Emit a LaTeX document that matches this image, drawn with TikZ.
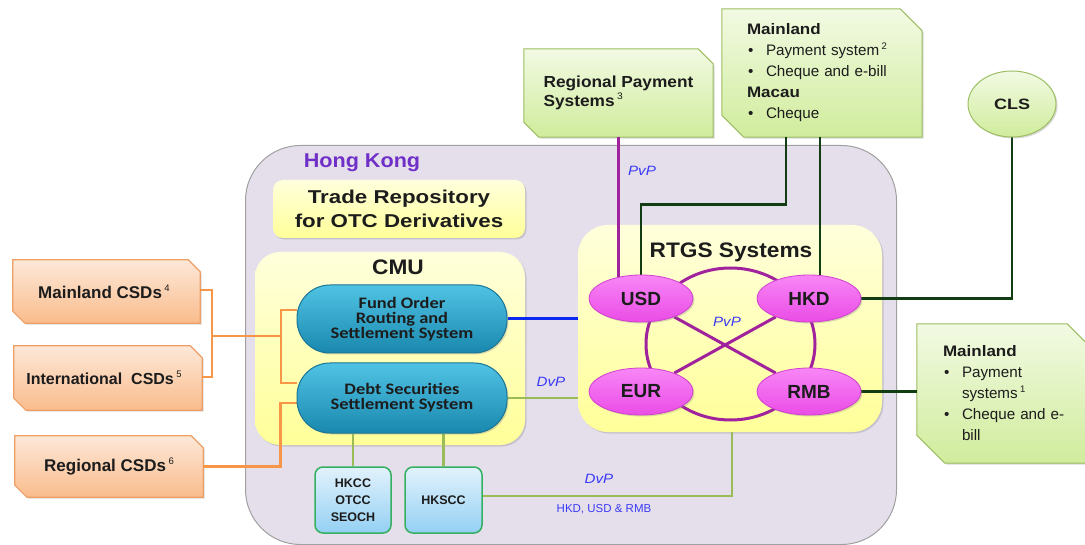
\documentclass[tikz,border=0pt]{standalone}
\usepackage{fontspec}
\setmainfont{Liberation Sans}
\newfontfamily\fA{Liberation Sans}
\newfontfamily\fAs[FakeStretch=1.08]{Liberation Sans}
\newfontfamily\fAx[FakeStretch=1.12]{Liberation Sans}
\newfontfamily\fAw[FakeStretch=1.2]{Liberation Sans}
\newfontfamily\fC[FakeStretch=1.15]{Carlito}
\usetikzlibrary{shadows,calc,shapes.geometric}
\pgfdeclarelayer{lyZ}
\pgfdeclarelayer{lyA}
\pgfdeclarelayer{lyB}
\pgfdeclarelayer{lyC}
\pgfsetlayers{lyZ,lyA,lyB,lyC,main}
\newcommand\supnum[1]{\hspace{2.5pt}\raisebox{0.42em}{\fontsize{9.5}{9.5}\selectfont\mdseries #1}}
\newcommand\fs[2]{\fontsize{#1}{#2}\selectfont}
\newcommand\blt{\makebox[19pt][l]{\hspace{1pt}\textbullet}}
\newcommand\snip[4]{%
  \path[#4] (#1.north west) -- ([xshift=-#2pt]#1.north east) -- ([yshift=-#2pt]#1.north east)
     -- (#1.south east) -- ([xshift=#3pt]#1.south west) -- ([yshift=#3pt]#1.south west) -- cycle;}
\definecolor{lav}{HTML}{E5DFEC}
\definecolor{lavb}{HTML}{A0A0A0}
\definecolor{yelT}{HTML}{FFFFDC}
\definecolor{yelB}{HTML}{FFFF99}
\definecolor{tealT}{HTML}{50C3E4}
\definecolor{tealB}{HTML}{1A88AE}
\definecolor{tealD}{HTML}{1A7696}
\definecolor{magT}{HTML}{F886F6}
\definecolor{magB}{HTML}{EA4CE6}
\definecolor{magD}{HTML}{D040D0}
\definecolor{grnT}{HTML}{F2FAE3}
\definecolor{grnB}{HTML}{D0EC9C}
\definecolor{grnD}{HTML}{9DBE62}
\definecolor{orT}{HTML}{FDE8D8}
\definecolor{orB}{HTML}{F9BC8C}
\definecolor{orD}{HTML}{EE9F66}
\definecolor{orL}{HTML}{F79646}
\definecolor{bluT}{HTML}{E2F2FC}
\definecolor{bluB}{HTML}{94D0F3}
\definecolor{bluD}{HTML}{35B060}
\definecolor{purL}{HTML}{A1229D}
\definecolor{dkG}{HTML}{123D12}
\definecolor{olG}{HTML}{9BBB59}
\definecolor{bluL}{HTML}{0A28F0}
\definecolor{lblB}{HTML}{3A3AF5}
\definecolor{hkP}{HTML}{7030C8}
\definecolor{txt}{HTML}{1C1C1C}
\tikzset{
  box/.style={draw=none, inner sep=0pt, align=center, text=txt},
  shad/.style={drop shadow={shadow xshift=1.5pt,shadow yshift=-1.5pt,opacity=0.3}},
  yel/.style={top color=yelT, bottom color=yelB},
  pill/.style={box, rounded corners=33pt, top color=tealT, bottom color=tealB, draw=tealD, line width=1pt, shad, font=\fC\bfseries\fs{16}{15}},
  cur/.style={box, ellipse, top color=magT, bottom color=magB, draw=magD, line width=0.8pt, shad, minimum width=104pt, minimum height=47pt, font=\fA\bfseries\fs{19}{19}},
  clr/.style={box, rounded corners=8pt, top color=bluT, bottom color=bluB, draw=bluD, line width=1.5pt, minimum width=76pt, minimum height=66pt, font=\fA\bfseries\fs{12.5}{17}},
  note/.style={top color=grnT, bottom color=grnB, draw=grnD, line width=1pt, shad},
  csd/.style={top color=orT, bottom color=orB, draw=orD, line width=1.2pt, shad},
  csdtxt/.style={box, minimum width=188pt, font=\fA\bfseries\fs{17}{17}},
  lbl/.style={font=\fAx\itshape\fs{13.5}{13.5}, text=lblB, inner sep=0pt},
  purln/.style={draw=purL, line width=3pt},
  dkgln/.style={draw=dkG, line width=2.8pt},
  olgln/.style={draw=olG, line width=2.3pt},
  bluln/.style={draw=bluL, line width=3pt},
  orln/.style={draw=orL, line width=2.8pt},
}
\begin{document}
\begin{tikzpicture}[x=1pt,y=-1pt]
\useasboundingbox (0,0) rectangle (1085,545);
\begin{pgfonlayer}{lyZ}
\fill[white] (0,0) rectangle (1085,545);
\end{pgfonlayer}

% ---------- containers ----------
\begin{pgfonlayer}{lyA}
\node[box, rounded corners=55pt, fill=lav, draw=lavb, line width=1pt, minimum width=651pt, minimum height=399pt, anchor=north west] (hk) at (245,145) {};
\end{pgfonlayer}
\begin{pgfonlayer}{lyB}
\node[box, yel, rounded corners=10pt, shad, minimum width=252pt, minimum height=58pt, font=\fAw\bfseries\fs{18.6}{24.5}] (tr) at (399,209) {Trade Repository\\for OTC Derivatives};
\node[box, yel, rounded corners=25pt, shad, minimum width=270pt, minimum height=193pt] (cmu) at (390,348.5) {};
\node[box, yel, rounded corners=30pt, shad, minimum width=304pt, minimum height=207pt] (rtgs) at (730,328.5) {};
\end{pgfonlayer}

% ---------- labels ----------
\node[inner sep=0pt, font=\fAs\bfseries\fs{20}{20}, text=hkP] (hkl) at (362,163) {Hong Kong};
\node[inner sep=0pt, font=\fAs\bfseries\fs{21}{21}, text=txt] (cmul) at (398,267) {CMU};
\node[inner sep=0pt, font=\fAs\bfseries\fs{21}{21}, text=txt] (rtgsl) at (731,252) {RTGS Systems};

% ---------- CMU systems ----------
\node[pill, minimum width=210pt, minimum height=68pt] (fors) at (402,319) {Fund Order\\Routing and\\Settlement System};
\node[pill, minimum width=210pt, minimum height=70pt] (dsss) at (402,398) {Debt Securities\\Settlement System};
\node[clr] (hkcc) at (353,500) {HKCC\\OTCC\\SEOCH};
\node[clr, minimum width=77pt] (hkscc) at (443.5,500) {HKSCC};

% ---------- RTGS currencies ----------
\node[cur] (usd) at (641,298.5) {USD};
\node[cur] (hkd) at (809,298.5) {HKD};
\node[cur] (eur) at (641,391.5) {EUR};
\node[cur] (rmb) at (809,391.5) {RMB};

% ---------- outside boxes ----------
\node[box, minimum width=189pt, minimum height=88pt, align=left, font=\fAs\bfseries\fs{16}{18.5}] (rps) at (618.5,93) {Regional Payment\\Systems\supnum{3}};
\node[box, minimum width=200pt, minimum height=128pt, text width=150pt, align=left, font=\fA\fs{15.2}{21}] (mlt) at (822,73)
  {{\fAx\bfseries Mainland}\\\blt Payment system\supnum{2}\\\blt Cheque and e-bill\\{\fAx\bfseries Macau}\\\blt Cheque};
\node[box, minimum width=183pt, minimum height=139pt, text width=131pt, align=left, font=\fA\fs{15.2}{21}] (mlr) at (1008.5,393.5)
  {{\fAx\bfseries Mainland}\\\blt Payment\\\hspace*{19pt}systems\supnum{1}\\\blt Cheque and e-\\\hspace*{19pt}bill};
\node[box, ellipse, top color=grnT, bottom color=grnB, draw=grnD, line width=1pt, shad, minimum width=88pt, minimum height=66pt, font=\fAw\bfseries\fs{15}{15}] (cls) at (1012,104) {CLS};

\node[csdtxt, minimum width=187pt, minimum height=63pt] (mcsd) at (106.5,291.5) {Mainland CSDs\supnum{4}\hspace*{5pt}};
\node[csdtxt, minimum height=64pt, font=\fA\bfseries\fs{16}{16}] (icsd) at (108,378) {International\ \ CSDs\supnum{5}\hspace*{8pt}};
\node[csdtxt, minimum height=61pt] (rcsd) at (109,466.5) {Regional CSDs\supnum{6}};

\begin{pgfonlayer}{lyB}
\snip{rps}{15}{15}{note}
\snip{mlt}{22}{22}{note}
\snip{mlr}{33}{28}{note}
\snip{mcsd}{12}{12}{csd}
\snip{icsd}{12}{12}{csd}
\snip{rcsd}{12}{12}{csd}
\end{pgfonlayer}

% ---------- connectors ----------
\begin{pgfonlayer}{lyC}
\draw[purln] (730.5,344) ellipse [x radius=84.5pt, y radius=76pt];
\draw[purln] (usd) -- (rmb);
\draw[purln] (hkd) -- (eur);
\draw[purln] (rps.south) -- (rps.south |- usd.center);
\draw[dkgln] ([xshift=-36pt]mlt.south) -- ++(0,67) -| (usd.center);
\draw[dkgln] ([xshift=-2pt]mlt.south) -- ([xshift=-2pt]mlt.south |- hkd.center);
\draw[dkgln] (cls.south) |- (hkd.east);
\draw[dkgln] (rmb.east) -- (rmb.east -| mlr.west);
\draw[bluln] (fors.east) -- (fors.east -| rtgs.west);
\draw[olgln] (dsss.east) -- (dsss.east -| rtgs.west);
\draw[olgln] (hkcc.north) -- (hkcc.north |- dsss.south);
\draw[olgln] (hkscc.north) -- (hkscc.north |- dsss.south);
\draw[olgln] ([yshift=4pt]hkscc.east) -| ([xshift=2pt]rtgs.south);
\coordinate (ob) at (212,336);
\coordinate (oc) at (281,336);
\draw[orln] ([yshift=1.5pt]mcsd.east) -| (ob) |- ([yshift=1pt]icsd.east);
\draw[orln] (ob) -- (oc);
\draw[orln] ([yshift=9pt]fors.west) -| (oc) |- ([yshift=15pt]dsss.west);
\draw[orln] (rcsd.east) -| ([xshift=-16pt,yshift=-5pt]dsss.west) -- ([yshift=-5pt]dsss.west);
\end{pgfonlayer}

% ---------- connector labels ----------
\node[lbl] (pvp1) at (642,171) {PvP};
\node[lbl] (pvp2) at (727,322) {PvP};
\node[lbl] (dvp1) at (551,382) {DvP};
\node[lbl] (dvp2) at (599,479) {DvP};
\node[inner sep=0pt, font=\fA\fs{11.5}{11.5}, text=lblB] (ccy) at (604,509) {HKD, USD \& RMB};
\end{tikzpicture}
\end{document}
